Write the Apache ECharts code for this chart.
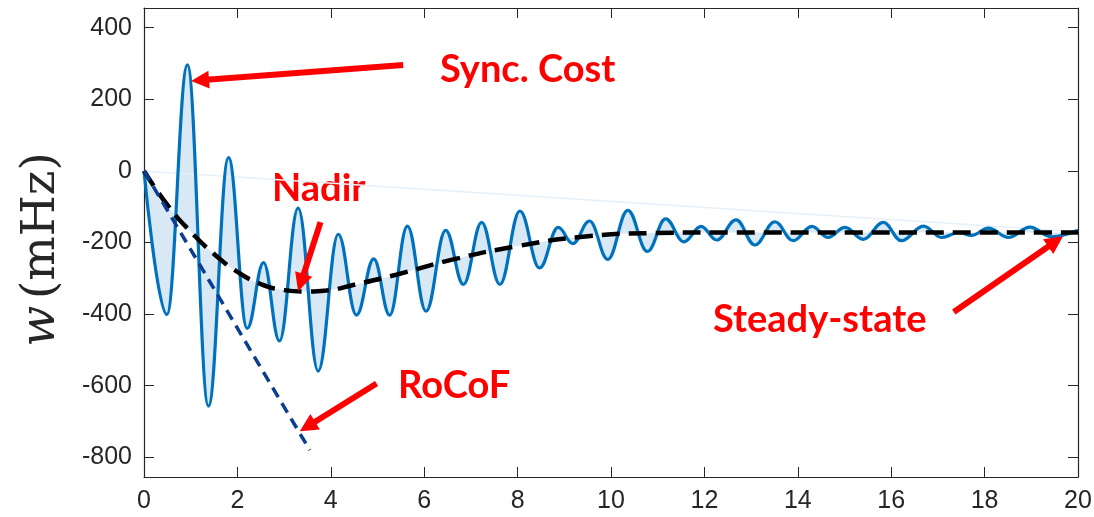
<!DOCTYPE html>
<html>
<head>
<meta charset="utf-8">
<script src="https://cdn.jsdelivr.net/npm/echarts@6/dist/echarts.min.js"></script>
<style>
    html, body { margin: 0; padding: 0; background: #fff; }
    #chart { width: 1094px; height: 517px; }
</style>
</head>
<body>
<div id="chart"></div>
<script>
// values (time in s, w in mHz)
const waveT = [0, 0.49, 0.93, 1.38, 1.81, 2.21, 2.56, 2.90, 3.30, 3.73, 4.16, 4.55, 4.92, 5.26, 5.64,
    6.04, 6.46, 6.84, 7.23, 7.62, 8.05, 8.47, 8.87, 9.18, 9.54, 9.93, 10.36, 10.78, 11.17, 11.56,
    11.93, 12.26, 12.68, 13.08, 13.51, 13.90, 14.30, 14.65, 15.01, 15.40, 15.83, 16.22, 16.69, 17.08,
    17.45, 17.72, 18.08, 18.51, 18.97, 19.43, 20];
const waveW = [0, -401, 296, -657, 37, -440, -256, -475, -104, -559, -177, -403, -246, -403, -154,
    -392, -166, -317, -144, -317, -112, -271, -158, -203, -140, -247, -110, -225, -134, -198,
    -155, -193, -137, -207, -142, -195, -155, -186, -158, -191, -144, -195, -154, -186,
    -172, -180, -160, -186, -157, -184, -166];
const trendT = [0, 0.5, 1.0, 1.5, 2.0, 2.5, 3.0, 3.4, 3.9, 4.5, 5.4, 6.6, 8.0, 9.4, 10.8, 12.5, 15, 20];
const trendW = [0, -95, -170, -232, -282, -316, -333, -337, -334, -318, -290, -248, -210, -184, -174, -172, -172, -172];
const rocofT = [0, 3.55];
const rocofW = [0, -780];
const chordT = [0, 20];
const chordW = [0, -170];
const yTicks = [-800, -600, -400, -200, 0, 200, 400];
// annotations: arrow tail and arrow head centre, in data units
const notes = ['Sync. Cost', 'Nadir', 'RoCoF', 'Steady-state'];
const arrowTail = [[5.55, 296], [3.78, -143], [4.98, -594], [17.34, -394]];
const arrowHead = [[1.20, 253], [3.36, -312], [3.50, -714], [19.52, -197]];

const zip = (a, b) => a.map((v, i) => [v, b[i]]);

// same bezier construction as echarts' line smoothing, so the fill edge sits under the line
function smoothPath(pts, smooth, monotone) {
    let d = '';
    let cx0 = pts[0][0], cy0 = pts[0][1];
    for (let i = 1; i < pts.length; i++) {
        const x = pts[i][0], y = pts[i][1];
        const px = pts[i - 1][0], py = pts[i - 1][1];
        let cx1 = x, cy1 = y, nx0 = x, ny0 = y;
        if (i < pts.length - 1) {
            const nx = pts[i + 1][0], ny = pts[i + 1][1];
            const vx = nx - px, vy = ny - py;
            if (monotone) {
                const dir = vx > 0 ? 1 : -1;
                cx1 = x - dir * Math.abs(x - px) * smooth;
                nx0 = x + dir * Math.abs(nx - x) * smooth;
            } else {
                const l0 = Math.hypot(x - px, y - py), l1 = Math.hypot(nx - x, ny - y);
                const r = l1 / (l0 + l1);
                cx1 = x - vx * smooth * (1 - r);
                cy1 = y - vy * smooth * (1 - r);
                nx0 = x + vx * smooth * r;
                ny0 = y + vy * smooth * r;
            }
        }
        d += ' C' + cx0 + ',' + cy0 + ' ' + cx1 + ',' + cy1 + ' ' + x + ',' + y;
        cx0 = nx0; cy0 = ny0;
    }
    return d;
}

const chart = echarts.init(document.getElementById('chart'));
const axisColor = '#262626';
const labelFont = { color: axisColor, fontSize: 25, fontFamily: 'Liberation Sans' };
const boxLine = { show: true, onZero: false, lineStyle: { color: axisColor, width: 1.2 } };
const tickIn = { show: true, inside: true, length: 10, lineStyle: { color: axisColor } };

const option = {
    animation: false,
    grid: { left: 144, right: 16, top: 8, bottom: 40, containLabel: false, outerBoundsMode: 'none' },
    xAxis: [
        {
            type: 'value', min: 0, max: 20, interval: 2, position: 'bottom',
            axisLine: boxLine,
            axisTick: tickIn,
            axisLabel: Object.assign({ margin: 12 }, labelFont),
            splitLine: { show: false }
        },
        {
            type: 'value', min: 0, max: 20, interval: 2, position: 'top',
            axisLine: boxLine,
            axisTick: tickIn,
            axisLabel: { show: false },
            splitLine: { show: false }
        }
    ],
    yAxis: [
        {
            type: 'value', min: -855, max: 455, position: 'left',
            axisLine: boxLine,
            axisTick: Object.assign({ customValues: yTicks }, tickIn),
            axisLabel: Object.assign({ margin: 12, customValues: yTicks }, labelFont),
            splitLine: { show: false },
            name: '{i|w}  {n|(mHz)}',
            nameLocation: 'middle',
            nameGap: 78,
            nameRotate: 90,
            nameTextStyle: {
                color: axisColor,
                padding: [0, 14, 0, 0],
                rich: {
                    i: { fontFamily: 'DejaVu Serif', fontStyle: 'italic', fontSize: 48, color: axisColor },
                    n: { fontFamily: 'DejaVu Serif', fontSize: 47, color: axisColor }
                }
            }
        },
        {
            type: 'value', min: -855, max: 455, position: 'right',
            axisLine: boxLine,
            axisTick: Object.assign({ customValues: yTicks }, tickIn),
            axisLabel: { show: false },
            splitLine: { show: false }
        }
    ],
    series: [
        {
            // shaded band between the oscillation and its trend
            type: 'custom',
            silent: true,
            z: 1,
            data: [[0, 0]],
            renderItem: function (params, api) {
                const top = waveT.map((t, i) => api.coord([t, waveW[i]]));
                const bot = trendT.map((t, i) => api.coord([t, trendW[i]])).reverse();
                const d = 'M' + top[0][0] + ',' + top[0][1] + smoothPath(top, 0.4, true) +
                    ' L' + bot[0][0] + ',' + bot[0][1] + smoothPath(bot, 0.5, false) + ' Z';
                return { type: 'path', shape: { pathData: d }, style: { fill: '#d8e8f5' } };
            }
        },
        {
            type: 'line', silent: true, z: 2, symbol: 'none',
            data: zip(chordT, chordW),
            lineStyle: { color: '#e6f0f9', width: 1.5 }
        },
        {
            type: 'line', z: 3, symbol: 'none', smooth: 0.4, smoothMonotone: 'x',
            data: zip(waveT, waveW),
            lineStyle: { color: '#0072BD', width: 3.2 }
        },
        {
            type: 'line', z: 4, symbol: 'none', smooth: 0.5,
            data: zip(trendT, trendW),
            lineStyle: { color: '#000000', width: 4.5, type: [18, 9] }
        },
        {
            type: 'line', z: 4, symbol: 'none',
            data: zip(rocofT, rocofW),
            lineStyle: { color: '#0b3d91', width: 3.5, type: [11, 7] },
            markLine: {
                silent: true,
                symbol: ['none', 'triangle'],
                symbolSize: [18, 18],
                label: { show: false },
                lineStyle: { color: '#ff0000', width: 6, type: 'solid' },
                data: arrowTail.map((p, i) => [{ coord: p }, { coord: arrowHead[i] }])
            }
        }
    ],
    graphic: [
        { type: 'text', x: 440, y: 70, style: { text: notes[0], fill: '#ff0000', font: 'bold 38px Lato', textVerticalAlign: 'middle' } },
        { type: 'text', x: 272, y: 189, style: { text: notes[1], fill: '#ff0000', font: 'bold 38px Lato', textVerticalAlign: 'middle' } },
        { type: 'text', x: 398, y: 386, style: { text: notes[2], fill: '#ff0000', font: 'bold 38px Lato', textVerticalAlign: 'middle' } },
        { type: 'text', x: 713, y: 320, style: { text: notes[3], fill: '#ff0000', font: 'bold 38px Lato', textVerticalAlign: 'middle' } }
    ]
};

chart.setOption(option);
</script>
</body>
</html>
